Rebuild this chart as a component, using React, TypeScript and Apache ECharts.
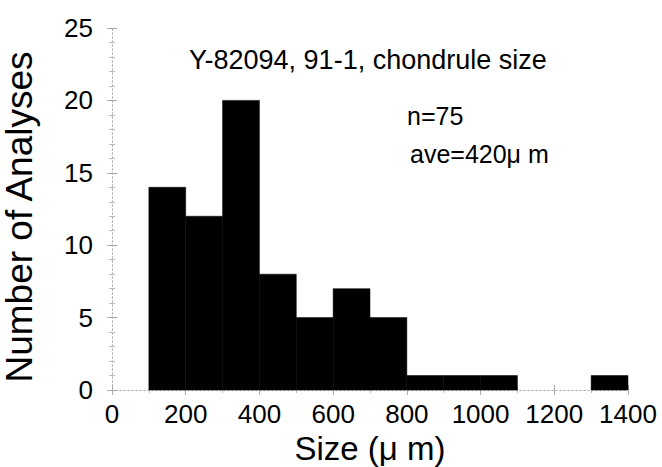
import React, { useEffect, useRef } from "react";
import * as echarts from "echarts";

const binStarts = [100, 200, 300, 400, 500, 600, 700, 800, 900, 1000, 1100, 1200, 1300];
const counts = [14, 12, 20, 8, 5, 7, 5, 1, 1, 1, 0, 0, 1];
const binWidth = 100;
const titleText = "Y-82094, 91-1, chondrule size";
const nText = "n=75";
const aveText = "ave=420\u03bc m";
const xName = "Size (\u03bc m)";
const yName = "Number of Analyses";

const FONT = "'Liberation Sans', Arial, Helvetica, sans-serif";

export default function App() {
  const ref = useRef<HTMLDivElement>(null);
  useEffect(() => {
    if (!ref.current) return;
    const chart = echarts.init(ref.current, undefined, { renderer: "svg" });
    const data = binStarts
      .map((s, i) => [s, s + binWidth, counts[i]])
      .filter((d) => d[2] > 0);
    const frameLine = { show: true, lineStyle: { color: "#a8a8a8", width: 1, type: [1, 3] as any } };
    const tick = { show: true, inside: true, length: 5, lineStyle: { color: "#a8a8a8" } };
    const minor = { show: true, length: 3, lineStyle: { color: "#bbbbbb" } };
    chart.setOption({
      animation: false,
      backgroundColor: "#ffffff",
      textStyle: { fontFamily: FONT },
      grid: { left: 112, right: 34, top: 28, bottom: 77, containLabel: false, outerBoundsMode: "none" },
      xAxis: [
        {
          type: "value",
          min: 0,
          max: 1400,
          interval: 200,
          position: "bottom",
          axisLine: frameLine,
          axisTick: tick,
          minorTick: { ...minor, splitNumber: 2 },
          splitLine: { show: false },
          axisLabel: { color: "#000", fontSize: 26, margin: 11, fontFamily: FONT, formatter: (v: number) => String(v) },
          name: xName,
          nameLocation: "middle",
          nameGap: 41,
          nameTextStyle: { color: "#000", fontSize: 33, fontFamily: FONT },
        },
        {
          type: "value",
          min: 0,
          max: 1400,
          interval: 200,
          position: "top",
          axisLine: frameLine,
          axisTick: tick,
          minorTick: { ...minor, splitNumber: 2 },
          splitLine: { show: false },
          axisLabel: { show: false },
        },
      ],
      yAxis: [
        {
          type: "value",
          min: 0,
          max: 25,
          interval: 5,
          position: "left",
          axisLine: frameLine,
          axisTick: tick,
          minorTick: { ...minor, splitNumber: 5 },
          splitLine: { show: false },
          axisLabel: { color: "#000", fontSize: 26, margin: 19, fontFamily: FONT },
          name: yName,
          nameLocation: "middle",
          nameGap: 74,
          nameTextStyle: { color: "#000", fontSize: 37, fontFamily: FONT, padding: [0, 16, 0, 0] },
        },
        {
          type: "value",
          min: 0,
          max: 25,
          interval: 5,
          position: "right",
          axisLine: frameLine,
          axisTick: tick,
          minorTick: { ...minor, splitNumber: 5 },
          splitLine: { show: false },
          axisLabel: { show: false },
        },
      ],
      series: [
        {
          type: "custom",
          xAxisIndex: 0,
          yAxisIndex: 0,
          encode: { x: [0, 1], y: 2 },
          data,
          renderItem: (params: any, api: any) => {
            const p0 = api.coord([api.value(0), api.value(2)]);
            const p1 = api.coord([api.value(1), 0]);
            return {
              type: "rect",
              shape: { x: p0[0], y: p0[1], width: p1[0] - p0[0], height: p1[1] - p0[1] },
              style: { fill: "#000000", stroke: "#000000", lineWidth: 0.5 },
            };
          },
        },
      ],
      graphic: [
        {
          type: "text",
          left: 189,
          top: 46,
          style: { text: titleText, fill: "#000", font: `27px ${FONT}` },
        },
        {
          type: "text",
          left: 407,
          top: 103,
          style: { text: nText, fill: "#000", font: `25px ${FONT}` },
        },
        {
          type: "text",
          left: 410,
          top: 141,
          style: { text: aveText, fill: "#000", font: `25px ${FONT}` },
        },
      ],
    });
    return () => chart.dispose();
  }, []);
  return (
    <div
      ref={ref}
      style={{ position: "fixed", left: 0, top: 0, width: 662, height: 467 }}
    />
  );
}
